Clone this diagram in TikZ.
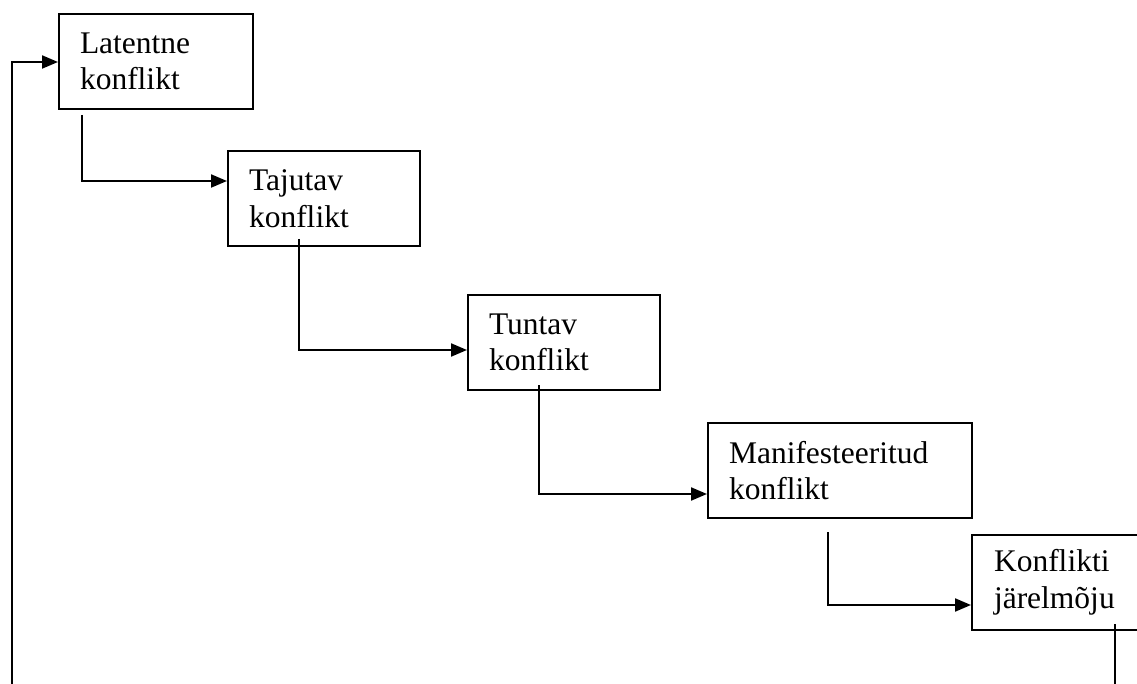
\documentclass[tikz,border=0pt]{standalone}
\usepackage{fontspec}
\setmainfont{Liberation Serif}
\usetikzlibrary{arrows.meta,calc}
\tikzset{
  stagebox/.style={draw=black, line width=2pt, anchor=north west, minimum height=95pt,
    inner xsep=21pt, inner ysep=0pt, align=left,
    font=\fontsize{31.5pt}{36.5pt}\selectfont},
  conn/.style={draw=black, line width=2pt, -{Triangle[length=16pt,width=13pt]}}
}
\begin{document}
\begin{tikzpicture}[x=1pt,y=-1pt]
\useasboundingbox (0,0) rectangle (1137,684);
\clip (0,0) rectangle (1137,684);
\node[stagebox, text width=152pt] (b1) at (58,13) {Latentne\\konflikt};
\node[stagebox, text width=150pt] (b2) at (227,150) {Tajutav\\konflikt};
\node[stagebox, text width=150pt] (b3) at (467,294) {Tuntav\\konflikt};
\node[stagebox, text width=222pt] (b4) at (707,422) {Manifesteeritud\\konflikt};
\node[stagebox, text width=160pt, inner xsep=22pt] (b5) at (971,534) {Konflikti\\järelmõju};
\coordinate (bot) at (12,700);
\draw[conn] ($(b1.south west)+(24,5)$) |- ($(b2.north west)+(0,31)$);
\draw[conn] ($(b2.south west)+(72,-8)$) |- ($(b3.north west)+(0,56)$);
\draw[conn] ($(b3.south west)+(72,-6)$) |- ($(b4.north west)+(0,72)$);
\draw[conn] ($(b4.south west)+(121,13)$) |- ($(b5.north west)+(0,71)$);
\draw[conn] ($(b5.south west)+(144,-7)$) |- (bot) |- ($(b1.north west)+(0,49)$);
\end{tikzpicture}
\end{document}
